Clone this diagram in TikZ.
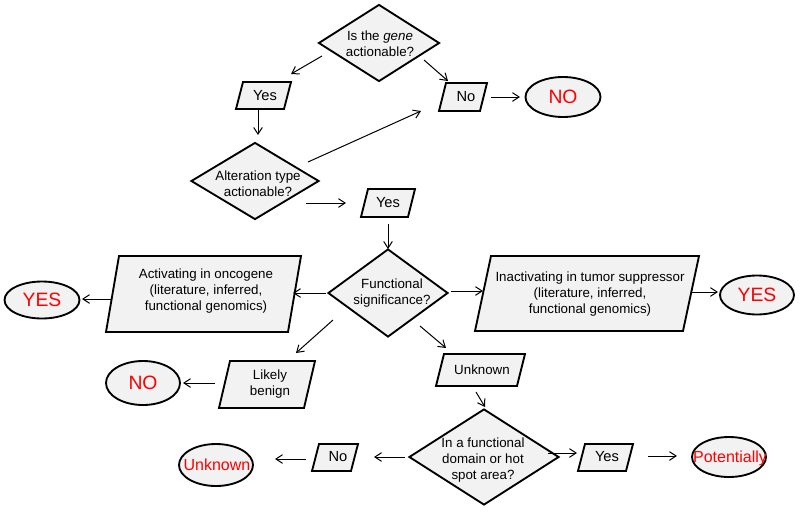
\documentclass[tikz,border=0pt]{standalone}
\usepackage{fontspec}
\setmainfont{Liberation Sans}
\usetikzlibrary{shapes.geometric,calc,arrows.meta}
\definecolor{shapefill}{HTML}{F2F2F2}
\definecolor{lblred}{HTML}{FF0000}
\newcommand\ynfont{\fontsize{11}{13}\selectfont}
% #1 name, #2 left, #3 right, #4 top, #5 bottom, #6 slant, #7 text x, #8 text y, #9 text
\newcommand\pgram[9]{%
  \coordinate (#1) at ({(#2+#3)/2},{(#4+#5)/2});
  \draw[pgline] ({#2+#6},#4) -- (#3,#4) -- ({#3-#6},#5) -- (#2,#5) -- cycle;
  \node[txt] (#1t) at (#7,#8) {#9};
}
\tikzset{
  pgline/.style={draw=black, fill=shapefill, line width=1.4pt, line join=miter},
  dia/.style={shape=diamond, draw=black, fill=shapefill, line width=1.4pt, inner sep=0pt},
  ell/.style={shape=ellipse, draw=black, fill=shapefill, line width=1.4pt, inner sep=0pt},
  txt/.style={align=center, font=\fontsize{10}{12.3}\selectfont, inner sep=0pt},
  redtxt/.style={text=lblred, inner sep=0pt, text depth=0pt},
  bigred/.style={redtxt, font=\fontsize{14.5}{16}\selectfont},
  smallred/.style={redtxt, font=\fontsize{12}{14}\selectfont},
  arr/.style={-{Straight Barb[length=5pt,width=6.5pt]}, line width=0.75pt},
}
\begin{document}
\begin{tikzpicture}[x=0.75pt, y=-0.75pt]
\fill[white] (0,0) rectangle (800,511);
\useasboundingbox (0,0) rectangle (800,511);

% diamonds
\node[dia, minimum width=121*0.75pt, minimum height=77*0.75pt] (d1) at (379,43) {};
\node[txt] (d1t) at (380,44) {Is the \textit{gene}\\actionable?};
\node[dia, minimum width=128*0.75pt, minimum height=77*0.75pt] (d2) at (255,181) {};
\node[txt] (d2t) at (258,184) {Alteration type\\actionable?};
\node[dia, minimum width=120*0.75pt, minimum height=88*0.75pt] (d3) at (388,293) {};
\node[txt] (d3t) at (392,293) {Functional\\significance?};
\node[dia, minimum width=150*0.75pt, minimum height=96*0.75pt] (d4) at (484,457) {};
\node[txt] (d4t) at (483,460) {In a functional\\domain or hot\\spot area?};

% parallelograms
\pgram{yes1}{236}{291}{82}{109}{7}{265}{96}{\ynfont Yes}
\pgram{no1}{439}{487}{83}{111}{7}{466}{97}{\ynfont No}
\pgram{yes2}{361}{415}{189}{217}{7}{388}{203}{\ynfont Yes}
\pgram{act}{106}{301}{256}{332}{13}{206}{291}{Activating in oncogene\\(literature, inferred,\\functional genomics)}
\pgram{inact}{475}{699}{256}{331}{16}{590}{294}{Inactivating in tumor suppressor\\(literature, inferred,\\functional genomics)}
\pgram{benign}{219}{315}{361}{408}{11}{270}{384}{Likely\\benign}
\pgram{unk}{436}{525}{354}{386}{8}{482}{370}{Unknown}
\pgram{no2}{312}{358}{444}{471}{7}{338}{457}{\ynfont No}
\pgram{yes3}{578}{633}{444}{471}{7}{607}{457}{\ynfont Yes}

% ellipses
\node[ell, minimum width=75*0.75pt, minimum height=40*0.75pt] (noa) at (563,97) {};
\node[bigred] (noat) at (noa) {NO};
\node[ell, minimum width=75*0.75pt, minimum height=37*0.75pt] (yesl) at (42,300) {};
\node[bigred] (yeslt) at (yesl) {YES};
\node[ell, minimum width=74*0.75pt, minimum height=39*0.75pt] (yesr) at (757,295) {};
\node[bigred] (yesrt) at (yesr) {YES};
\node[ell, minimum width=74*0.75pt, minimum height=44*0.75pt] (nob) at (143,383) {};
\node[bigred] (nobt) at (nob) {NO};
\node[ell, minimum width=74*0.75pt, minimum height=42*0.75pt] (unke) at (216,465) {};
\node[smallred] (unket) at (217,465) {Unknown};
\node[ell, minimum width=74*0.75pt, minimum height=40*0.75pt] (pot) at (729,457) {};
\node[smallred] (pott) at (730,457) {Potentially};

% connectors
\draw[arr] ($(d1)+(-57,13)$) -- ($(yes1)+(27.5,-21.5)$);
\draw[arr] ($(d1)+(45,17)$) -- ($(no1)+(-15,-16)$);
\draw[arr] ($(no1)+(28,0)$) -- ($(noa)+(-43,0)$);
\draw[arr] ($(yes1)+(-5.5,14.5)$) -- ($(d2)+(3,-46)$);
\draw[arr] ($(d2)+(53,-19)$) -- ($(no1)+(-42,14)$);
\draw[arr] ($(d2)+(51,22)$) -- ($(yes2)+(-42,0)$);
\draw[arr] ($(yes2)+(0,21)$) -- ($(d3)+(0,-44)$);
\draw[arr] ($(d3)+(-62,0)$) -- ($(act)+(89.5,-1)$);
\draw[arr] ($(act)+(-91.5,5)$) -- ($(yesl)+(40,-1)$);
\draw[arr] ($(d3)+(-55,27)$) -- ($(benign)+(29,-31.5)$);
\draw[arr] ($(benign)+(-52,-1.5)$) -- ($(nob)+(40,0)$);
\draw[arr] ($(d3)+(63,-2)$) -- ($(inact)+(-104,-2.5)$);
\draw[arr] ($(inact)+(104,-1.5)$) -- ($(yesr)+(-39,-3)$);
\draw[arr] ($(d3)+(32,33)$) -- ($(unk)+(-34.5,-22)$);
\draw[arr] ($(unk)+(-4.5,22)$) -- ($(d4)+(1,-50)$);
\draw[arr] ($(d4)+(-79,0)$) -- ($(no2)+(39,-0.5)$);
\draw[arr] ($(no2)+(-29,1.5)$) -- ($(unke)+(59,-6)$);
\draw[arr] ($(d4)+(64,-4)$) -- ($(yes3)+(-28.5,-4.5)$);
\draw[arr] ($(yes3)+(42.5,-1.5)$) -- ($(pot)+(-52,-1)$);
\end{tikzpicture}
\end{document}
